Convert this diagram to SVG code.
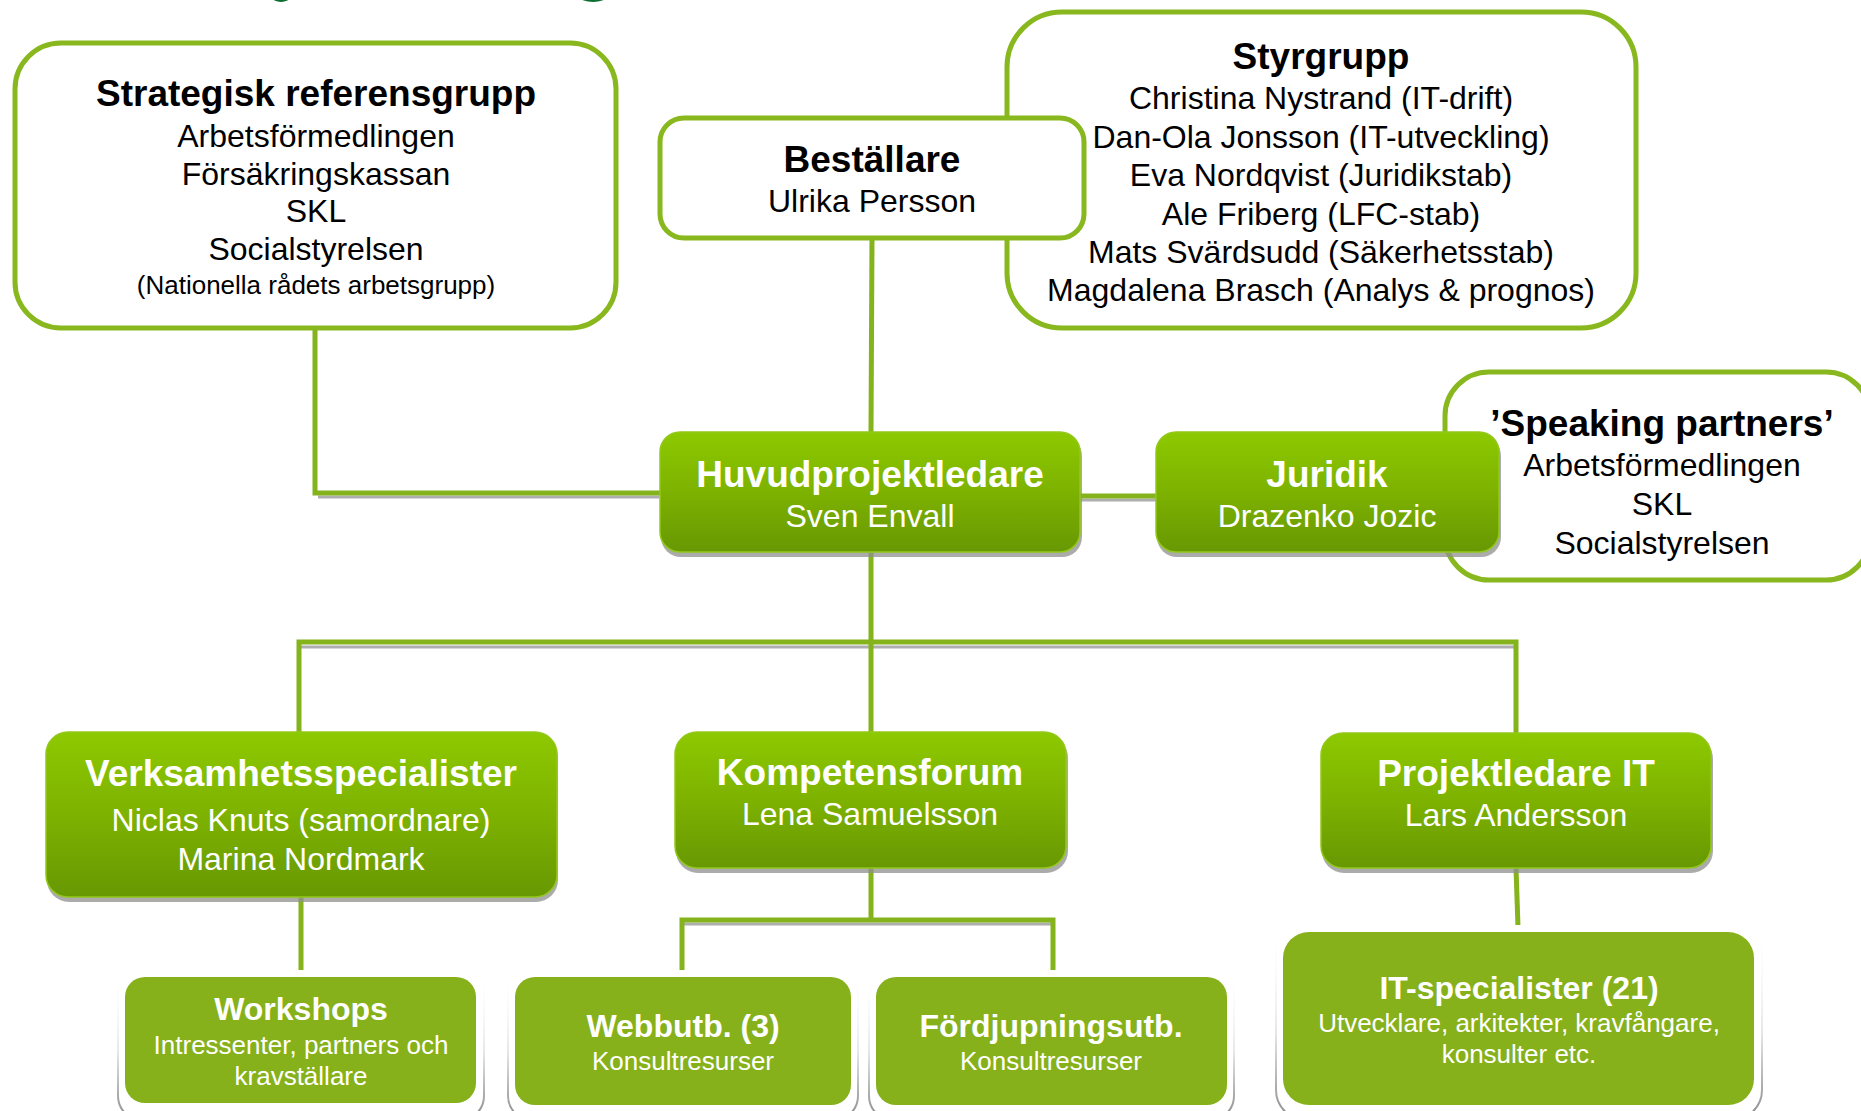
<svg xmlns="http://www.w3.org/2000/svg" width="1861" height="1111" viewBox="0 0 1861 1111">
<defs>
<linearGradient id="gg" x1="0" y1="0" x2="0" y2="1">
<stop offset="0" stop-color="#8dc900"/>
<stop offset="0.5" stop-color="#7db200"/>
<stop offset="1" stop-color="#679803"/>
</linearGradient>
<linearGradient id="edge" x1="0" y1="0" x2="0" y2="1">
<stop offset="0" stop-color="#ffffff" stop-opacity="0"/>
<stop offset="0.55" stop-color="#e6e6e6"/>
<stop offset="1" stop-color="#8a8a8a"/>
</linearGradient>
</defs>
<style>
.wb{fill:#fff;stroke:#88b71e;stroke-width:5}
.gb{fill:url(#gg);stroke:#93c81a;stroke-width:1.5}
.sh{fill:#8f8f8f;opacity:.75}
.fb{fill:#86b11b}
.fr{fill:#fff;stroke:url(#edge);stroke-width:2}
text{font-family:"Liberation Sans",Arial,Helvetica,sans-serif;text-anchor:middle}
.tb{font-weight:bold;font-size:37px}
.t{font-size:32px}
.ts{font-size:26px}
.tsb{font-weight:bold;font-size:32px}
.k{fill:#000}
.w{fill:#fff}
.ln{stroke:#84b31c;stroke-width:5;fill:none}
.ls{stroke:#9a9a9a;stroke-width:3;fill:none;opacity:.8}
</style>
<rect width="1861" height="1111" fill="#fff"/>
<g id="title-fragments" fill="#0b6e30">
<ellipse cx="281" cy="-3" rx="9" ry="5"/>
<ellipse cx="593" cy="-3" rx="13" ry="5"/>
</g>
<g id="connectors">
<polyline class="ls" points="318,497 659,497"/>
<polyline class="ln" points="315,328 315,493 660,493"/>
<line class="ln" x1="872" y1="238" x2="871" y2="432" stroke-width="4"/>
<line class="ls" x1="1080" y1="500" x2="1156" y2="500"/>
<line class="ln" x1="1080" y1="496" x2="1156" y2="496"/>
<line class="ls" x1="301" y1="647" x2="1515" y2="647"/>
<polyline class="ln" points="299,733 299,642 1516,642 1516,733"/>
<line class="ln" x1="871" y1="552" x2="871" y2="732"/>
<line class="ln" x1="301" y1="897" x2="301" y2="977"/>
<line class="ln" x1="871" y1="868" x2="871" y2="920"/>
<line class="ls" x1="684" y1="924" x2="1051" y2="924"/>
<polyline class="ln" points="682,970 682,920 1053,920 1053,970"/>
<line class="ln" x1="1516" y1="868" x2="1518" y2="927"/>
</g>
<g id="strategisk">
<rect class="wb" x="15" y="43" width="601" height="285" rx="46"/>
<text class="tb k" x="316" y="106">Strategisk referensgrupp</text>
<text class="t k" x="316" y="147">Arbetsförmedlingen</text>
<text class="t k" x="316" y="185">Försäkringskassan</text>
<text class="t k" x="316" y="222">SKL</text>
<text class="t k" x="316" y="260">Socialstyrelsen</text>
<text class="ts k" x="316" y="294">(Nationella rådets arbetsgrupp)</text>
</g>
<g id="styrgrupp">
<rect class="wb" x="1007" y="12" width="629" height="316" rx="55"/>
<text class="tb k" x="1321" y="69">Styrgrupp</text>
<text class="t k" x="1321" y="109">Christina Nystrand (IT-drift)</text>
<text class="t k" x="1321" y="148">Dan-Ola Jonsson (IT-utveckling)</text>
<text class="t k" x="1321" y="186">Eva Nordqvist (Juridikstab)</text>
<text class="t k" x="1321" y="225">Ale Friberg (LFC-stab)</text>
<text class="t k" x="1321" y="263">Mats Svärdsudd (Säkerhetsstab)</text>
<text class="t k" x="1321" y="301">Magdalena Brasch (Analys &amp; prognos)</text>
</g>
<g id="bestallare">
<rect class="wb" x="660" y="118" width="424" height="120" rx="24"/>
<text class="tb k" x="872" y="172">Beställare</text>
<text class="t k" x="872" y="212">Ulrika Persson</text>
</g>
<g id="speaking-partners">
<rect class="wb" x="1445" y="372" width="425" height="208" rx="44"/>
<text class="tb k" x="1662" y="436">’Speaking partners’</text>
<text class="t k" x="1662" y="476">Arbetsförmedlingen</text>
<text class="t k" x="1662" y="515">SKL</text>
<text class="t k" x="1662" y="554">Socialstyrelsen</text>
</g>
<g id="huvudprojektledare">
<rect class="sh" x="661" y="436" width="421" height="121" rx="20"/>
<rect class="gb" x="660" y="432" width="420" height="120" rx="20"/>
<text class="tb w" x="870" y="487">Huvudprojektledare</text>
<text class="t w" x="870" y="527">Sven Envall</text>
</g>
<g id="juridik">
<rect class="sh" x="1157" y="436" width="344" height="121" rx="20"/>
<rect class="gb" x="1156" y="432" width="343" height="120" rx="20"/>
<text class="tb w" x="1327" y="487">Juridik</text>
<text class="t w" x="1327" y="527">Drazenko Jozic</text>
</g>
<g id="verksamhetsspecialister">
<rect class="sh" x="47" y="736" width="511" height="166" rx="22"/>
<rect class="gb" x="46" y="732" width="511" height="165" rx="22"/>
<text class="tb w" x="301" y="786">Verksamhetsspecialister</text>
<text class="t w" x="301" y="831">Niclas Knuts (samordnare)</text>
<text class="t w" x="301" y="870">Marina Nordmark</text>
</g>
<g id="kompetensforum">
<rect class="sh" x="676" y="736" width="392" height="137" rx="22"/>
<rect class="gb" x="675" y="732" width="391" height="136" rx="22"/>
<text class="tb w" x="870" y="785">Kompetensforum</text>
<text class="t w" x="870" y="825">Lena Samuelsson</text>
</g>
<g id="projektledare-it">
<rect class="sh" x="1322" y="737" width="391" height="136" rx="22"/>
<rect class="gb" x="1321" y="733" width="390" height="135" rx="22"/>
<text class="tb w" x="1516" y="786">Projektledare IT</text>
<text class="t w" x="1516" y="826">Lars Andersson</text>
</g>
<g id="workshops">
<rect class="fr" x="118" y="970" width="366" height="150" rx="24"/>
<rect class="fb" x="125" y="977" width="351" height="126" rx="20"/>
<text class="tsb w" x="301" y="1020">Workshops</text>
<text class="ts w" x="301" y="1054">Intressenter, partners och</text>
<text class="ts w" x="301" y="1085">kravställare</text>
</g>
<g id="webbutb">
<rect class="fr" x="508" y="970" width="350" height="150" rx="24"/>
<rect class="fb" x="515" y="977" width="336" height="128" rx="20"/>
<text class="tsb w" x="683" y="1037">Webbutb. (3)</text>
<text class="ts w" x="683" y="1070">Konsultresurser</text>
</g>
<g id="fordjupningsutb">
<rect class="fr" x="869" y="970" width="365" height="150" rx="24"/>
<rect class="fb" x="876" y="977" width="351" height="128" rx="20"/>
<text class="tsb w" x="1051" y="1037">Fördjupningsutb.</text>
<text class="ts w" x="1051" y="1070">Konsultresurser</text>
</g>
<g id="it-specialister">
<rect class="fr" x="1276" y="925" width="486" height="195" rx="30"/>
<rect class="fb" x="1283" y="932" width="471" height="173" rx="26"/>
<text class="tsb w" x="1519" y="999">IT-specialister (21)</text>
<text class="ts w" x="1519" y="1032">Utvecklare, arkitekter, kravfångare,</text>
<text class="ts w" x="1519" y="1063">konsulter etc.</text>
</g>
</svg>
